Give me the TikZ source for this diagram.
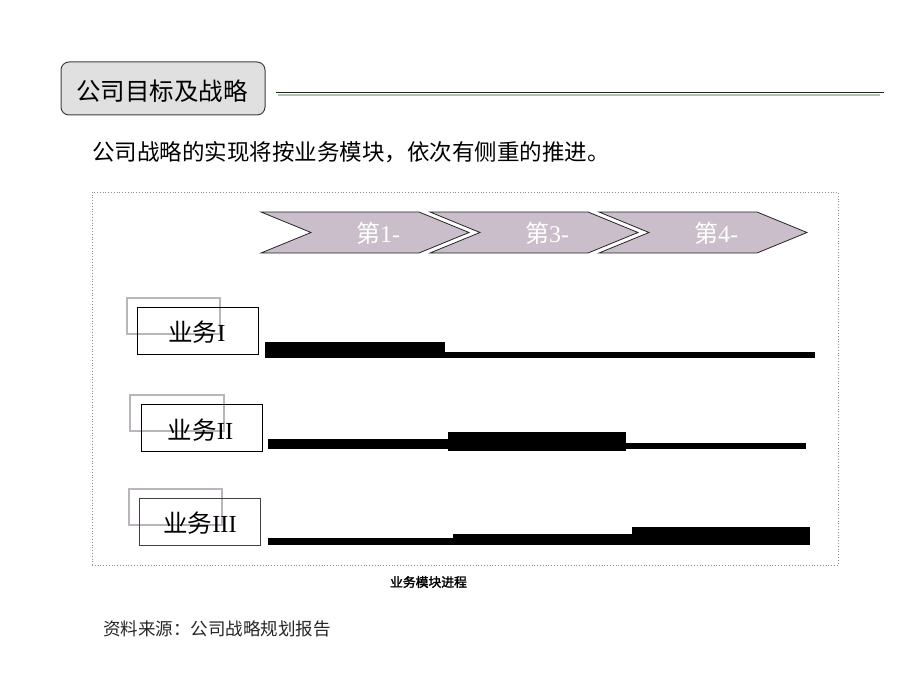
\documentclass[tikz,border=0pt]{standalone}
\usepackage{fontspec}
\setmainfont{Liberation Serif}
\newfontfamily\cjk{Noto Sans CJK SC}
\newfontfamily\cjkb[FakeBold=2]{Noto Sans CJK SC}
\definecolor{chevfill}{RGB}{202,190,202}
\definecolor{titlefill}{RGB}{224,224,224}
\definecolor{pinkgray}{RGB}{188,180,188}
\definecolor{lineb}{RGB}{175,195,175}
\tikzset{
  x=1pt, y=-1pt,
  chev/.style={fill=chevfill, draw=black!85, line width=0.8pt, line join=miter},
  chevtext/.style={text=white, font=\fontsize{24}{24}\selectfont, inner sep=0pt},
  bizbox/.style={draw=black, line width=0.9pt},
  shadowbox/.style={draw=pinkgray, line width=2pt},
  biztext/.style={font=\fontsize{24.5}{24.5}\selectfont, inner sep=0pt},
  bar/.style={fill=black, draw=none}
}
\begin{document}
\begin{tikzpicture}
\useasboundingbox (0,0) rectangle (920,690);
\fill[white] (0,0) rectangle (920,690);

% title box
\node[draw=black!75, line width=1pt, fill=titlefill, rounded corners=8pt,
  minimum width=204pt, minimum height=53pt, inner sep=0pt] (title) at (163,88.5) {};
\node[font=\cjk\fontsize{24.5}{24.5}\selectfont, inner sep=0pt] (titletext) at (162,91) {公司目标及战略};

% title rule
\coordinate (r1) at (276,92.5);
\coordinate (r2) at (884,92.5);
\coordinate (r3) at (278,95);
\coordinate (r4) at (880,95);
\draw[line width=1.8pt, black!85] (r1) -- (r2);
\draw[line width=1.4pt, lineb] (r3) -- (r4);

% subtitle
\node[anchor=west, font=\cjk\fontsize{22.5}{22.5}\selectfont, inner sep=0pt] (sub) at (92,152) {公司战略的实现将按业务模块，依次有侧重的推进。};

% dotted frame
\node[draw=black!45, dotted, line width=0.8pt, minimum width=746pt, minimum height=373pt, inner sep=0pt] (frame) at (465,378.5) {};

% chevrons
\foreach \xo/\lab/\nm in {261/1/c1, 430/3/c2, 599/4/c3}{
  \draw[chev] (\xo,212) -- ++(158,0) -- ++(50,20.5) -- ++(-50,20.5) -- ++(-158,0) -- ++(50,-20.5) -- cycle;
  \node[chevtext] (\nm) at (\xo+117,233) {{\cjk 第}\lab-};
}

% business boxes
\draw[shadowbox] (127,298) rectangle (220,334);
\node[bizbox, minimum width=121pt, minimum height=47pt, inner sep=0pt] (b1) at (197.5,330.5) {};
\node[biztext] (t1) at (197,332) {{\cjk 业务}I};

\draw[shadowbox] (130,395) rectangle (224,431);
\node[bizbox, minimum width=121pt, minimum height=47pt, inner sep=0pt] (b2) at (201.5,427.5) {};
\node[biztext] (t2) at (200.5,430) {{\cjk 业务}II};

\draw[shadowbox] (128.5,488.5) rectangle (221.5,525);
\node[bizbox, draw=black!75, minimum width=121pt, minimum height=47pt, inner sep=0pt] (b3) at (200,521.5) {};
\node[biztext] (t3) at (200,523) {{\cjk 业务}III};

% bars business I
\fill[bar] (265,342) rectangle (445,358);
\fill[bar] (445,351.5) rectangle (815,358);
% bars business II
\fill[bar] (268,439) rectangle (448,449);
\fill[bar] (448,432) rectangle (626,451);
\fill[bar] (626,443) rectangle (806,449);
% bars business III
\fill[bar] (268,538) rectangle (453,545);
\fill[bar] (453,534) rectangle (632,545);
\fill[bar] (632,526.5) rectangle (810,545);

% caption
\node[font=\cjkb\fontsize{12.8}{12.8}\selectfont, inner sep=0pt] (cap) at (428.5,582) {业务模块进程};

% source
\node[anchor=west, text=black!85, font=\cjk\fontsize{17.5}{17.5}\selectfont, inner sep=0pt] (src) at (103,629) {资料来源：公司战略规划报告};
\end{tikzpicture}
\end{document}
